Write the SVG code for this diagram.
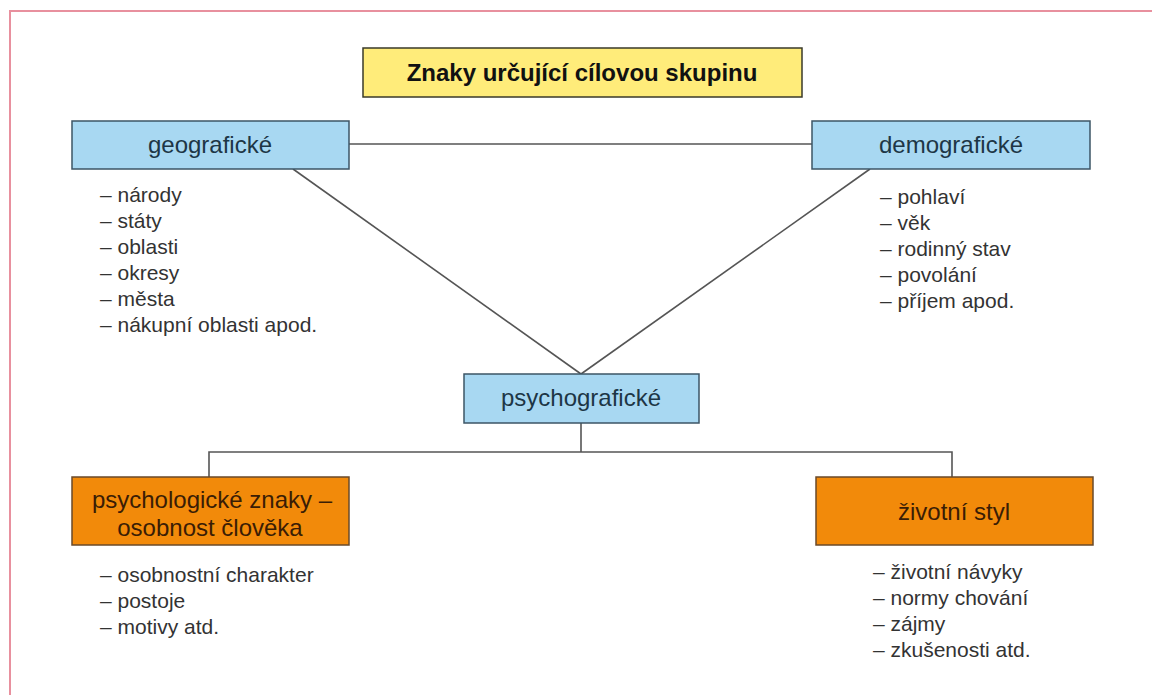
<svg xmlns="http://www.w3.org/2000/svg" width="1152" height="695" viewBox="0 0 1152 695">
<style>
  text { font-family: "Liberation Sans", Arial, sans-serif; }
  .frame { fill: none; stroke: #e8909e; stroke-width: 2; }
  .title { fill: #ffec7a; stroke: #3a3a2a; stroke-width: 1.5; }
  .blue { fill: #a8d8f2; stroke: #3d5566; stroke-width: 1.5; }
  .orange { fill: #f28a0a; stroke: #6a4a2a; stroke-width: 1.5; }
  .lbl { font-size: 24px; text-anchor: middle; }
  .lblb { fill: #1d3646; }
  .lblo { fill: #3a1d05; }
  .ttl { font-size: 24px; font-weight: bold; fill: #111; text-anchor: middle; }
  .li { font-size: 21px; fill: #333; }
  .conn line, .conn polyline { stroke: #555; stroke-width: 1.6; fill: none; }
</style>
<rect x="0" y="0" width="1152" height="695" fill="#ffffff"/>
<rect class="frame" x="10" y="11" width="1165" height="710"/>

<g id="connectors" class="conn">
  <line x1="349" y1="144" x2="812" y2="144"/>
  <line x1="293" y1="169" x2="581" y2="374"/>
  <line x1="870" y1="169" x2="581" y2="374"/>
  <line x1="581" y1="423" x2="581" y2="452"/>
  <polyline points="209,477 209,452 952,452 952,477"/>
</g>

<g id="title">
  <rect class="title" x="363" y="48" width="439" height="49"/>
  <text class="ttl" x="582" y="81">Znaky určující cílovou skupinu</text>
</g>

<g id="geograficke">
  <rect class="blue" x="72" y="121" width="277" height="48"/>
  <text class="lbl lblb" x="210" y="153">geografické</text>
  <text class="li" x="100" y="202">– národy</text>
  <text class="li" x="100" y="228">– státy</text>
  <text class="li" x="100" y="254">– oblasti</text>
  <text class="li" x="100" y="280">– okresy</text>
  <text class="li" x="100" y="306">– města</text>
  <text class="li" x="100" y="332">– nákupní oblasti apod.</text>
</g>

<g id="demograficke">
  <rect class="blue" x="812" y="121" width="278" height="48"/>
  <text class="lbl lblb" x="951" y="153">demografické</text>
  <text class="li" x="880" y="204">– pohlaví</text>
  <text class="li" x="880" y="230">– věk</text>
  <text class="li" x="880" y="256">– rodinný stav</text>
  <text class="li" x="880" y="282">– povolání</text>
  <text class="li" x="880" y="308">– příjem apod.</text>
</g>

<g id="psychograficke">
  <rect class="blue" x="464" y="374" width="235" height="49"/>
  <text class="lbl lblb" x="581" y="406">psychografické</text>
</g>

<g id="psychologicke">
  <rect class="orange" x="72" y="477" width="277" height="68"/>
  <text class="lbl lblo" x="212" y="508">psychologické znaky –</text>
  <text class="lbl lblo" x="210" y="536">osobnost člověka</text>
  <text class="li" x="100" y="582">– osobnostní charakter</text>
  <text class="li" x="100" y="608">– postoje</text>
  <text class="li" x="100" y="634">– motivy atd.</text>
</g>

<g id="zivotni-styl">
  <rect class="orange" x="816" y="477" width="277" height="68"/>
  <text class="lbl lblo" x="954" y="520">životní styl</text>
  <text class="li" x="873" y="579">– životní návyky</text>
  <text class="li" x="873" y="605">– normy chování</text>
  <text class="li" x="873" y="631">– zájmy</text>
  <text class="li" x="873" y="657">– zkušenosti atd.</text>
</g>
</svg>
